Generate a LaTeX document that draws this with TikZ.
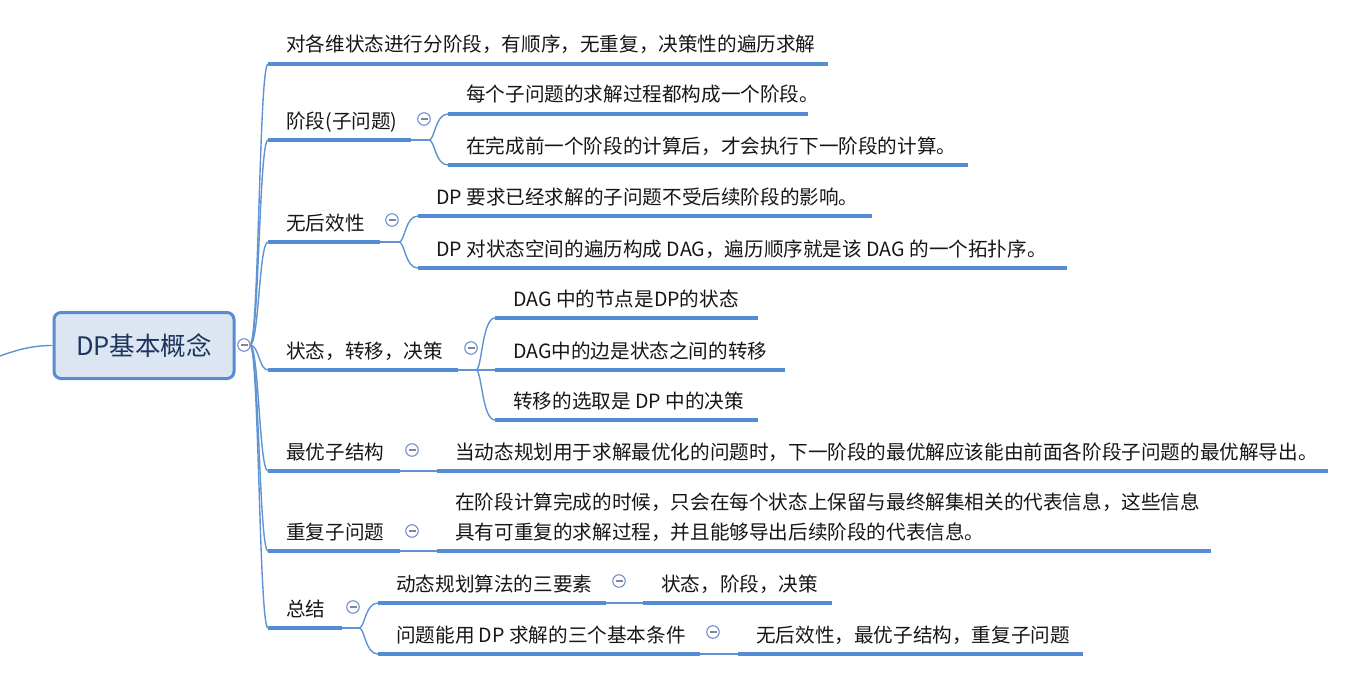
\documentclass[tikz,border=0pt]{standalone}
\usepackage{fontspec}
\setmainfont{Noto Sans CJK SC}
\usetikzlibrary{calc}
\definecolor{lblue}{RGB}{84,141,212}
\definecolor{cblue}{RGB}{96,146,212}
\definecolor{rootfill}{RGB}{220,230,243}
\definecolor{rootdraw}{RGB}{88,140,208}
\definecolor{roottext}{RGB}{30,52,92}
\definecolor{txtc}{RGB}{22,22,22}
\definecolor{collc}{RGB}{110,145,205}
\definecolor{minusc}{RGB}{130,130,160}
\tikzset{
  uline/.style={draw=lblue, line width=4pt, line cap=butt},
  curve/.style={draw=cblue, line width=1.4pt},
  txt/.style={inner sep=0pt, text=txtc, font=\fontsize{19.6}{24}\selectfont},
  coll/.style={circle, draw=collc, fill=white, line width=1.1pt, minimum size=12.5pt, inner sep=0pt,
    path picture={\draw[minusc, line width=1.1pt] ([xshift=-3.5pt]path picture bounding box.center) -- ([xshift=3.5pt]path picture bounding box.center);}},
  rootbox/.style={draw=rootdraw, fill=rootfill, line width=3pt, rounded corners=7pt,
    minimum width=180pt, minimum height=66pt, text=roottext, font=\fontsize{25.5}{30}\selectfont}
}
\newcommand{\topic}[5]{%
  \coordinate (#1s) at (#2,#4);
  \coordinate (#1e) at (#3,#4);
  \draw[uline] (#1s) -- (#1e);
  \node[txt, anchor=base west] (#1) at ($(#1s)+(18,-12)$) {#5};
}
\newcommand{\branch}[3]{%
  \draw[curve] (#1) .. controls ($(#1)+(#3,0)$) and ($(#1 |- #2)+(#3,0)$) .. (#2);
}
\begin{document}
\begin{tikzpicture}[x=1pt,y=-1pt]
\useasboundingbox (0,0) rectangle (1363,677);
% root
\node[rootbox] (root) at (144,345.5) {DP基本概念};
\coordinate (in) at (0,356);
\draw[curve] (in) .. controls (22,348) and (36,345.5) .. (root.west);
\node[coll] (k0) at (244,345) {};
\coordinate (s0) at (250,345);
% main topics
\topic{a1}{268}{828}{64}{对各维状态进行分阶段，有顺序，无重复，决策性的遍历求解}
\topic{a2}{268}{411}{140}{阶段(子问题)}
\topic{a3}{268}{380}{242}{无后效性}
\topic{a4}{268}{458}{370}{状态，转移，决策}
\topic{a5}{268}{400}{471}{最优子结构}
\topic{a6}{268}{400}{551}{重复子问题}
\topic{a7}{268}{342}{628}{总结}
\foreach \t in {a1,a2,a3,a4,a5,a6,a7}{\branch{s0}{\t s}{9}}
% 阶段
\node[coll] (k2) at (424,119) {};
\coordinate (j2) at (429,140);
\draw[curve] (a2e) -- (j2);
\topic{b1}{448}{808}{114}{每个子问题的求解过程都构成一个阶段。}
\topic{b2}{448}{968}{165}{在完成前一个阶段的计算后，才会执行下一阶段的计算。}
\branch{j2}{b1s}{6}
\branch{j2}{b2s}{6}
% 无后效性
\node[coll] (k3) at (392,220) {};
\coordinate (j3) at (399,242);
\draw[curve] (a3e) -- (j3);
\topic{c1}{418}{872}{216}{DP 要求已经求解的子问题不受后续阶段的影响。}
\topic{c2}{418}{1067}{268}{DP 对状态空间的遍历构成 DAG，遍历顺序就是该 DAG 的一个拓扑序。}
\branch{j3}{c1s}{6}
\branch{j3}{c2s}{6}
% 状态转移决策
\node[coll] (k4) at (471,348) {};
\coordinate (j4) at (476,370);
\draw[curve] (a4e) -- (j4);
\topic{d1}{495}{758}{318}{DAG 中的节点是DP的状态}
\topic{d2}{495}{785}{370}{DAG中的边是状态之间的转移}
\topic{d3}{495}{758}{420}{转移的选取是 DP 中的决策}
\branch{j4}{d1s}{6}
\draw[curve] (j4) -- (d2s);
\branch{j4}{d3s}{6}
% 最优子结构
\node[coll] (k5) at (412,450) {};
\topic{e1}{437}{1328}{471}{当动态规划用于求解最优化的问题时，下一阶段的最优解应该能由前面各阶段子问题的最优解导出。}
\draw[curve] (a5e) -- (e1s);
% 重复子问题
\node[coll] (k6) at (412,531) {};
\topic{f1}{437}{1211}{551}{具有可重复的求解过程，并且能够导出后续阶段的代表信息。}
\node[txt, anchor=base west] (f1a) at ($(f1.base west)+(0,-30)$) {在阶段计算完成的时候，只会在每个状态上保留与最终解集相关的代表信息，这些信息};
\draw[curve] (a6e) -- (f1s);
% 总结
\node[coll] (k7) at (353,607) {};
\coordinate (j7) at (359,628);
\draw[curve] (a7e) -- (j7);
\topic{g1}{378}{606}{603}{动态规划算法的三要素}
\topic{g2}{378}{700}{654}{问题能用 DP 求解的三个基本条件}
\branch{j7}{g1s}{6}
\branch{j7}{g2s}{6}
\node[coll] (k8) at (619,581) {};
\topic{h1}{643}{832}{603}{状态，阶段，决策}
\draw[curve] (g1e) -- (h1s);
\node[coll] (k9) at (713,632) {};
\topic{i1}{738}{1083}{654}{无后效性，最优子结构，重复子问题}
\draw[curve] (g2e) -- (i1s);
\end{tikzpicture}
\end{document}
